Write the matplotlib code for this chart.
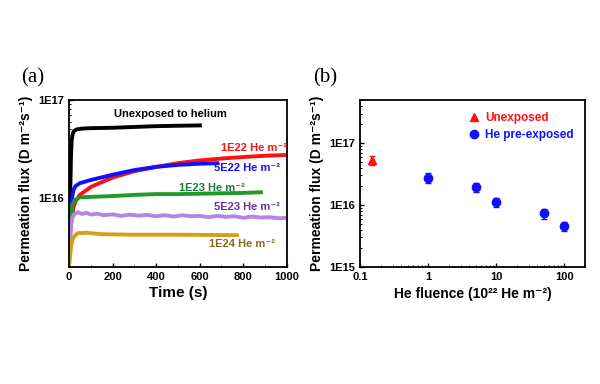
import numpy as np
import matplotlib.pyplot as plt
from matplotlib.lines import Line2D
from matplotlib.ticker import LogLocator, NullFormatter, FixedLocator, MultipleLocator

plt.rcParams['font.family'] = ['Liberation Sans', 'DejaVu Sans']
plt.rcParams['font.weight'] = 'bold'

# panel (a): permeation transients, time in s, flux in D m^-2 s^-1
t_unexp = [0, 3, 6, 9, 12, 16, 22, 35, 60, 100, 200, 300, 400, 500, 610]
f_unexp = [2.0e15, 4e15, 1.2e16, 2.6e16, 3.8e16, 4.4e16, 4.8e16, 5.0e16, 5.1e16, 5.15e16,
           5.2e16, 5.3e16, 5.4e16, 5.45e16, 5.5e16]

t_1e22 = [0, 5, 10, 20, 30, 50, 100, 200, 300, 400, 500, 600, 700, 800, 900, 1000]
f_1e22 = [2.5e15, 4e15, 6e15, 8e15, 9.3e15, 1.08e16, 1.3e16, 1.62e16, 1.88e16, 2.08e16,
          2.27e16, 2.42e16, 2.53e16, 2.62e16, 2.7e16, 2.75e16]

t_5e22 = [0, 5, 10, 20, 30, 50, 100, 200, 300, 400, 500, 600, 690]
f_5e22 = [3e15, 5e15, 9e15, 1.2e16, 1.33e16, 1.42e16, 1.53e16, 1.73e16, 1.93e16, 2.08e16,
          2.18e16, 2.24e16, 2.27e16]

t_1e23 = [0, 3, 8, 15, 25, 50, 100, 200, 300, 400, 500, 600, 700, 800, 890]
f_1e23 = [2.5e15, 4e15, 6.5e15, 8.5e15, 9.5e15, 1.02e16, 1.03e16, 1.05e16, 1.08e16, 1.1e16,
          1.1e16, 1.11e16, 1.12e16, 1.13e16, 1.15e16]

t_5e23 = [0, 3, 8, 15, 25, 40, 60, 80, 100, 130, 160, 200, 240, 280, 320, 360, 400, 440,
          480, 520, 560, 600, 640, 680, 720, 760, 800, 840, 880, 920, 960, 1000]
f_5e23 = [2.0e15, 3.2e15, 5e15, 6.3e15, 6.9e15, 7.2e15, 6.9e15, 7.1e15, 6.8e15, 6.95e15,
          6.7e15, 6.85e15, 6.6e15, 6.8e15, 6.65e15, 6.75e15, 6.55e15, 6.7e15, 6.5e15, 6.7e15,
          6.55e15, 6.6e15, 6.4e15, 6.6e15, 6.45e15, 6.55e15, 6.3e15, 6.5e15, 6.35e15, 6.4e15,
          6.25e15, 6.3e15]

t_1e24 = [0, 5, 10, 20, 40, 80, 150, 300, 500, 780]
f_1e24 = [2.0e15, 2.6e15, 3.3e15, 4.0e15, 4.4e15, 4.45e15, 4.3e15, 4.25e15, 4.25e15, 4.2e15]

# panel (b): steady state flux vs He fluence (1E22 He m^-2)
fl_unexp = [0.15]
flux_unexp = [5.4e16]
err_unexp = [0.9e16]
fl_pre = [1, 5, 10, 50, 100]
flux_pre = [2.77e16, 1.95e16, 1.12e16, 7.3e15, 4.6e15]
err_pre = [0.5e16, 0.35e16, 0.2e16, 1.3e15, 0.8e15]

ylab = 'Permeation flux (D m\u207b\u00b2s\u207b\u00b9)'

fig = plt.figure(figsize=(6, 3.84), dpi=100)
ax1 = fig.add_axes([0.115, 0.305, 0.363, 0.435])
ax2 = fig.add_axes([0.600, 0.305, 0.375, 0.435])

series = [
    (t_unexp, f_unexp, 'black', 'black', 'Unexposed to helium', 725, 7.1e16),
    (t_1e22, f_1e22, '#ff1010', '#ff1010', '1E22 He m\u207b\u00b2', 1000, 3.25e16),
    (t_5e22, f_5e22, '#1010ff', '#1010ff', '5E22 He m\u207b\u00b2', 968, 2.02e16),
    (t_1e23, f_1e23, '#1f9a2a', '#1a7a3a', '1E23 He m\u207b\u00b2', 807, 1.26e16),
    (t_5e23, f_5e23, '#b386e6', '#7030a0', '5E23 He m\u207b\u00b2', 968, 8.2e15),
    (t_1e24, f_1e24, '#d4a017', '#8a6a1a', '1E24 He m\u207b\u00b2', 945, 3.4e15),
]
for t, f, lc, tc, lab, xt, yt in series:
    ax1.plot(t, f, color=lc, lw=2.8, solid_capstyle='butt')
    ax1.text(xt, yt, lab, color=tc, fontsize=8, fontweight='bold', ha='right', va='center')

ax1.set_yscale('log')
ax1.set_xlim(0, 1000)
ax1.set_ylim(2e15, 1e17)
ax1.xaxis.set_major_locator(MultipleLocator(200))
ax1.xaxis.set_minor_locator(MultipleLocator(100))
ax1.yaxis.set_major_locator(FixedLocator([1e16, 1e17]))
ax1.yaxis.set_minor_locator(LogLocator(base=10, subs=np.arange(2, 10)))
ax1.yaxis.set_minor_formatter(NullFormatter())
ax1.set_yticklabels(['1E16', '1E17'])
ax1.set_xlabel('Time (s)', fontsize=11, fontweight='bold', labelpad=3)
ax1.set_ylabel(ylab, fontsize=10, fontweight='bold', labelpad=4)

ax2.errorbar(fl_unexp, flux_unexp, yerr=err_unexp, fmt='^', color='#ff1010', ms=6,
             capsize=2.5, elinewidth=1.2)
ax2.errorbar(fl_pre, flux_pre, yerr=err_pre, fmt='o', color='#1010ff', ms=6,
             capsize=2.5, elinewidth=1.2)
ax2.set_xscale('log')
ax2.set_yscale('log')
ax2.set_xlim(0.1, 200)
ax2.set_ylim(1e15, 5e17)
ax2.set_xticks([0.1, 1, 10, 100])
ax2.set_xticklabels(['0.1', '1', '10', '100'])
ax2.set_yticks([1e15, 1e16, 1e17])
ax2.set_yticklabels(['1E15', '1E16', '1E17'])
ax2.xaxis.set_minor_locator(LogLocator(base=10, subs=np.arange(2, 10)))
ax2.yaxis.set_minor_locator(LogLocator(base=10, subs=np.arange(2, 10)))
ax2.xaxis.set_minor_formatter(NullFormatter())
ax2.yaxis.set_minor_formatter(NullFormatter())
ax2.set_xlabel('He fluence (10\u00b2\u00b2 He m\u207b\u00b2)', fontsize=10, fontweight='bold',
               labelpad=4)
ax2.set_ylabel(ylab, fontsize=10, fontweight='bold', labelpad=4)
handles = [Line2D([], [], ls='none', marker='^', color='#ff1010', ms=6),
           Line2D([], [], ls='none', marker='o', color='#1010ff', ms=6)]
leg = ax2.legend(handles, ['Unexposed', 'He pre-exposed'], loc='upper right',
                 bbox_to_anchor=(0.98, 0.97), frameon=False, fontsize=8.5,
                 handletextpad=0.3, handlelength=1.2, borderaxespad=0.2, labelspacing=0.4)
for txt, c in zip(leg.get_texts(), ['#ff1010', '#1010ff']):
    txt.set_color(c)
    txt.set_fontweight('bold')

for ax in (ax1, ax2):
    ax.tick_params(which='both', direction='in', labelsize=8)
    ax.tick_params(which='major', length=3, width=1)
    ax.tick_params(which='minor', length=1.5, width=0.7)
    for s in ax.spines.values():
        s.set_linewidth(1.3)
    for lbl in ax.get_xticklabels() + ax.get_yticklabels():
        lbl.set_fontweight('bold')

fig.text(0.035, 0.785, '(a)', fontsize=15, family='Liberation Serif', fontweight='normal')
fig.text(0.522, 0.785, '(b)', fontsize=15, family='Liberation Serif', fontweight='normal')

fig.savefig('out.png', dpi=100)
